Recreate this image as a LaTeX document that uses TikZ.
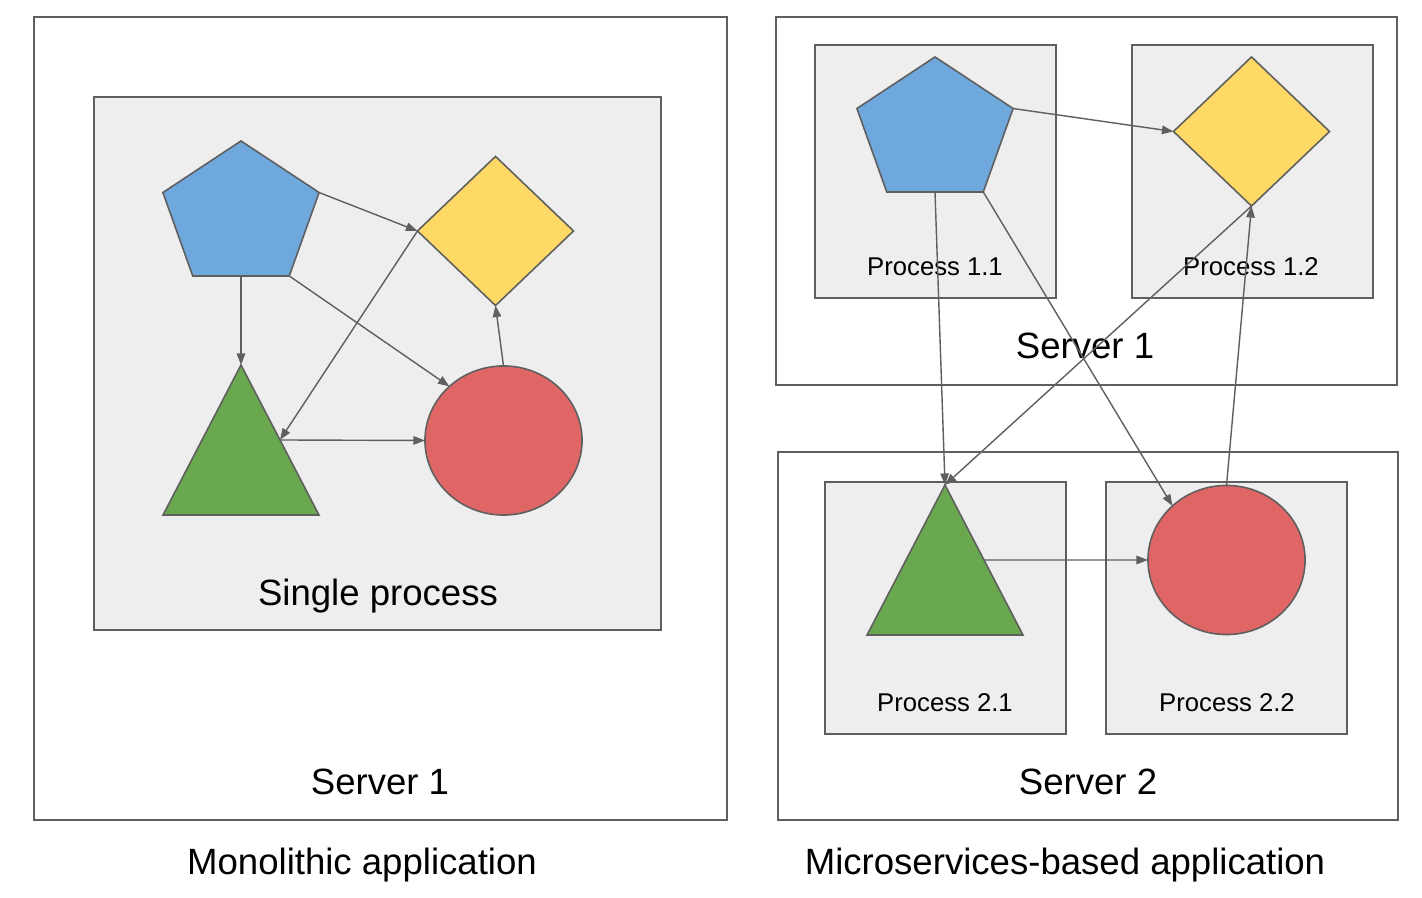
\documentclass[tikz,border=0pt]{standalone}
\usepackage{fontspec}
\setmainfont{Liberation Sans}
\usepackage{tikz}
\usetikzlibrary{shapes.geometric, arrows.meta}
\definecolor{boxgray}{HTML}{EEEEEE}
\definecolor{linegray}{HTML}{5F5F5F}
\definecolor{pentblue}{HTML}{6FA8DC}
\definecolor{diayellow}{HTML}{FFD966}
\definecolor{trigreen}{HTML}{6AA84F}
\definecolor{discred}{HTML}{E06666}

\begin{document}
\begin{tikzpicture}[x=0.01cm, y=-0.01cm,
  penta/.style={draw=linegray, fill=pentblue, line width=0.45pt, regular polygon, regular polygon sides=5, minimum size=1.492cm, inner sep=0pt, outer sep=0pt, xscale=1.1},
  rhomb/.style={draw=linegray, fill=diayellow, line width=0.45pt, diamond, minimum width=1.56cm, minimum height=1.49cm, inner sep=0pt, outer sep=0pt},
  trian/.style={draw=linegray, fill=trigreen, line width=0.45pt, regular polygon, regular polygon sides=3, minimum size=1.8cm, inner sep=0pt, outer sep=0pt, yscale=1.111},
  bubble/.style={draw=linegray, fill=discred, line width=0.45pt, ellipse, minimum width=1.57cm, minimum height=1.49cm, inner sep=0pt, outer sep=0pt},
  procbox/.style={draw=linegray, fill=boxgray, line width=0.5pt},
  serverbox/.style={draw=linegray, line width=0.5pt},
  bigtext/.style={font=\fontsize{10.4}{12}\selectfont, anchor=base, inner sep=0pt},
  proctext/.style={font=\fontsize{7.3}{9}\selectfont, anchor=base, inner sep=0pt},
  flow/.style={draw=linegray, line width=0.4pt, -{Triangle[length=1.15mm, width=0.85mm]}}]
\fill[white] (0, 0) rectangle (1422, 898);
\useasboundingbox (0, 0) rectangle (1422, 898);

% monolithic
\draw[serverbox] (34, 17) rectangle (727, 820);
\draw[procbox] (94, 97) rectangle (661, 630);
\node[bigtext] (single) at (378, 606) {Single process};
\node[bigtext] (srvA) at (380, 794) {Server 1};
\node[bigtext] (mono) at (362, 874) {Monolithic application};

\node[penta] (p1) at (241, 215.6) {};
\node[rhomb] (d1) at (495.5, 231) {};
\node[trian] (t1) at (241, 465) {};
\node[bubble] (c1) at (503.5, 440.5) {};

\draw[flow] (p1.corner 5) -- (d1.west);
\draw[flow] (p1.side 3) -- (t1.corner 1);
\draw[flow] (p1.corner 4) -- (c1.135);
\draw[flow] (d1.west) -- (t1.side 3);
\draw[flow] (t1.side 3) -- (c1.west);
\draw[flow] (c1.north) -- (d1.south);

% microservices
\draw[serverbox] (776, 17) rectangle (1397, 385);
\draw[serverbox] (778, 452) rectangle (1398, 820);
\draw[procbox] (815, 45) rectangle (1056, 298);
\draw[procbox] (1132, 45) rectangle (1373, 298);
\draw[procbox] (825, 482) rectangle (1066, 734);
\draw[procbox] (1106, 482) rectangle (1347, 734);
\node[proctext] (pr11) at (935, 276) {Process 1.1};
\node[proctext] (pr12) at (1251, 276) {Process 1.2};
\node[proctext] (pr21) at (945, 711) {Process 2.1};
\node[proctext] (pr22) at (1227, 711) {Process 2.2};
\node[bigtext] (srvB) at (1085, 359) {Server 1};
\node[bigtext] (srvC) at (1088, 794) {Server 2};
\node[bigtext] (micro) at (1065, 874) {Microservices-based application};

\node[penta] (p2) at (935, 131.6) {};
\node[rhomb] (d2) at (1251.5, 131.5) {};
\node[trian] (t2) at (945, 585) {};
\node[bubble] (c2) at (1226.5, 560) {};

\draw[flow] (p2.corner 5) -- (d2.west);
\draw[flow] (p2.side 3) -- (t2.corner 1);
\draw[flow] (p2.corner 4) -- (c2.135);
\draw[flow] (d2.south) -- (t2.corner 1);
\draw[flow] (t2.side 3) -- (c2.west);
\draw[flow] (c2.north) -- (d2.south);
\end{tikzpicture}
\end{document}
